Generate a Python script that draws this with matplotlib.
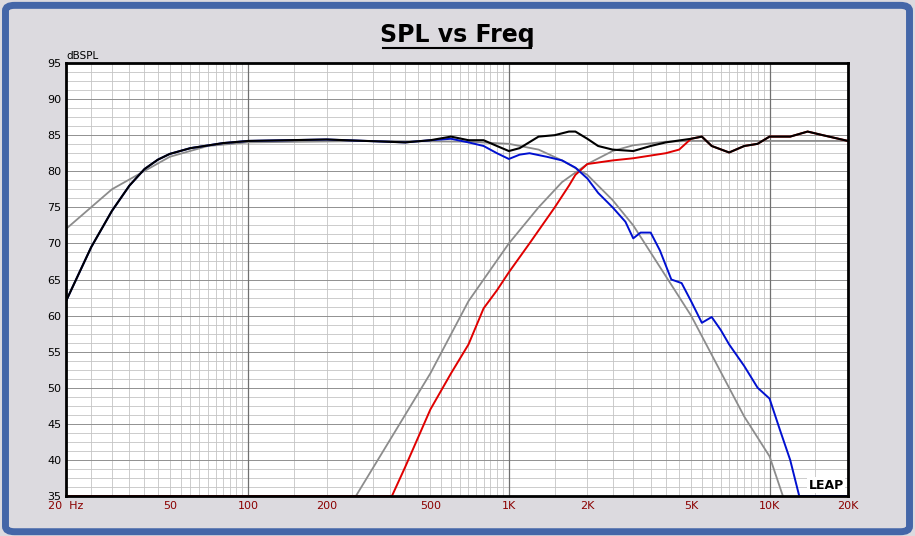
import numpy as np
import matplotlib
matplotlib.use("Agg")
import matplotlib.pyplot as plt
from matplotlib.patches import FancyBboxPatch

total_f = [20,25,30,35,40,45,50,60,80,100,200,400,500,600,700,800,900,1000,1100,1300,1500,1700,1800,2000,2200,2500,3000,3500,4000,5000,5500,6000,7000,8000,9000,10000,12000,14000,16000,20000]
total_db = [62,69.5,74.5,78,80.3,81.6,82.4,83.2,83.9,84.2,84.4,84.0,84.3,84.8,84.3,84.3,83.5,82.8,83.2,84.8,85,85.5,85.5,84.5,83.5,83,82.8,83.5,84,84.5,84.8,83.5,82.6,83.5,83.8,84.8,84.8,85.5,85.0,84.2]
woof_f = [500,600,700,800,900,1000,1100,1200,1400,1600,1800,2000,2200,2500,2800,3000,3200,3500,3800,4200,4600,5000,5500,6000,6500,7000,8000,9000,10000,11000,12000,13000,20000]
woof_db = [84.3,84.5,84,83.5,82.5,81.7,82.3,82.5,82,81.5,80.5,79,77,75,73,70.7,71.5,71.5,69,65,64.5,62,59,59.8,58,56,53,50,48.5,44,40,35,35]
tw_f = [20,356,400,500,600,700,800,900,1000,1200,1500,1700,1800,2000,2500,3000,4000,4500,5000,5500,6000,7000,8000,9000,10000,12000,14000,16000,20000]
tw_db = [35,35,39,47,52,56,61,63.5,66,70,75,78,79.5,81,81.5,81.8,82.5,83,84.5,84.8,83.5,82.6,83.5,83.8,84.8,84.8,85.5,85.0,84.2]
lp_f = [20,30,50,70,100,300,700,1000,1300,1600,2000,2500,3000,5000,8000,10000,11250]
lp_db = [72,77.5,82,83.5,84,84.2,84.1,83.8,83,81.5,79.5,76,72.5,60,46,40.5,35]
hp_f = [259,500,700,1000,1300,1600,2000,2500,3000,4000,5000,10000,20000]
hp_db = [35,52,62,70,75,78.5,81,82.8,83.6,84.1,84.2,84.2,84.2]

wf = [f for f in total_f if f < 500] + woof_f
wd = [d for f, d in zip(total_f, total_db) if f < 500] + woof_db

fig = plt.figure(figsize=(9.15, 5.36), dpi=100)
fig.patch.set_facecolor("#dcdadf")
fig.patches.append(FancyBboxPatch((0.006, 0.008), 0.988, 0.982, boxstyle="round,pad=0,rounding_size=0.01",
                                  transform=fig.transFigure, fill=False, ec="#4466a8", lw=5))
ax = fig.add_axes([66/915, 1-496/536, (848-66)/915, (496-63)/536])
ax.set_xscale("log")
ax.set_xlim(20, 20000)
ax.set_ylim(35, 95)
for d in [100, 1000, 10000]:
    ax.axvline(d, color="#707070", lw=0.9, zorder=1)
ax.plot(lp_f, lp_db, color="#8c8c8c", lw=1.3, zorder=3)
ax.plot(hp_f, hp_db, color="#8c8c8c", lw=1.3, zorder=3)
ax.plot(tw_f, tw_db, color="#e00000", lw=1.4, zorder=4)
ax.plot(wf, wd, color="#0010d0", lw=1.4, zorder=5)
ax.plot(total_f, total_db, color="black", lw=1.5, zorder=6)
ax.set_yticks(np.arange(35, 96, 5))
ax.set_yticks(np.arange(35, 95, 1.25), minor=True)
xt = [20,50,100,200,500,1000,2000,5000,10000,20000]
xl = ["20  Hz","50","100","200","500","1K","2K","5K","10K","20K"]
ax.set_xticks(xt)
ax.set_xticklabels(xl)
ax.xaxis.set_minor_locator(matplotlib.ticker.LogLocator(base=10, subs=np.arange(1, 10, 0.5), numticks=50))
ax.xaxis.set_minor_formatter(matplotlib.ticker.NullFormatter())
ax.grid(True, axis="x", which="both", color="#c4c4c4", lw=0.6, zorder=0)
ax.grid(True, axis="y", which="minor", color="#c4c4c4", lw=0.6, zorder=0)
ax.grid(True, axis="y", which="major", color="#909090", lw=0.7, zorder=0)
ax.set_axisbelow(True)
ax.tick_params(which="both", length=0)
ax.tick_params(axis="x", colors="#8b0000", labelsize=8)
ax.tick_params(axis="y", labelsize=8)
for s in ax.spines.values():
    s.set_linewidth(2)
    s.set_zorder(10)
ax.text(0.0, 1.005, "dBSPL", transform=ax.transAxes, fontsize=7.5, va="bottom")
ax.text(0.995, 0.01, "LEAP", transform=ax.transAxes, fontsize=9, fontweight="bold", ha="right", va="bottom",
        bbox=dict(fc="white", ec="none", pad=1), zorder=11)
fig.text(0.5, 1-35/536, "SPL vs Freq", ha="center", va="center", fontsize=17, fontweight="bold")
fig.add_artist(plt.Line2D([383/915, 531/915], [1-48/536, 1-48/536], color="black", lw=1.5))
fig.savefig("out.png", dpi=100, facecolor=fig.get_facecolor())
